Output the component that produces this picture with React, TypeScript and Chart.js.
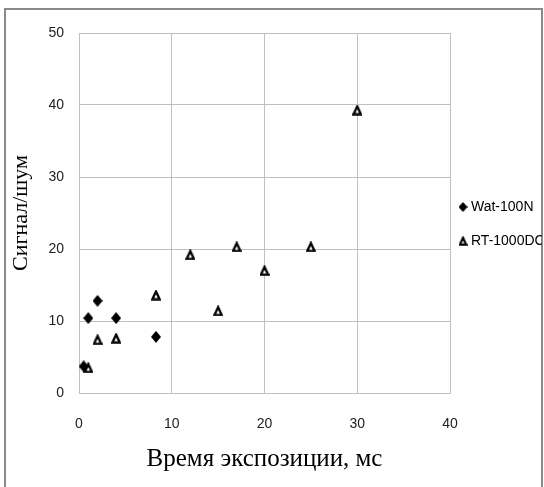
import React, { useEffect, useRef } from "react";
import { Chart, registerables } from "chart.js";

Chart.register(...registerables);

const seriesNames = ["Wat-100N", "RT-1000DC"];
const watX = [0.5, 1, 2, 4, 8.3];
const watY = [3.7, 10.4, 12.8, 10.4, 7.8];
const rtX = [1, 2, 4, 8.3, 12, 15, 17, 20, 25, 30];
const rtY = [3.5, 7.4, 7.6, 13.6, 19.2, 11.4, 20.3, 17.0, 20.3, 39.3];
const xTicks = [0, 10, 20, 30, 40];
const yTicks = [0, 10, 20, 30, 40, 50];
const xTitle = "Время экспозиции, мс";
const yTitle = "Сигнал/шум";

const SANS = "'Liberation Sans', Arial, sans-serif";
const SERIF = "'Liberation Serif', 'Times New Roman', serif";
const GRID = "#c0c0c0";

function makeDiamond(w: number, h: number) {
  const c = document.createElement("canvas");
  c.width = w;
  c.height = h;
  const g = c.getContext("2d")!;
  g.fillStyle = "#000";
  g.beginPath();
  g.moveTo(w / 2, 0);
  g.lineTo(w, h / 2);
  g.lineTo(w / 2, h);
  g.lineTo(0, h / 2);
  g.closePath();
  g.fill();
  return c;
}

function makeTriangle(w: number, h: number, lw: number) {
  const c = document.createElement("canvas");
  c.width = w;
  c.height = h;
  const g = c.getContext("2d")!;
  g.fillStyle = "#fff";
  g.strokeStyle = "#000";
  g.lineWidth = lw;
  g.lineJoin = "miter";
  const m = lw / 2 + 0.2;
  g.beginPath();
  g.moveTo(w / 2, m + 0.5);
  g.lineTo(w - m, h - m);
  g.lineTo(m, h - m);
  g.closePath();
  g.fill();
  g.stroke();
  return c;
}

export default function App() {
  const ref = useRef<HTMLCanvasElement | null>(null);

  useEffect(() => {
    if (!ref.current) return;
    const diamond = makeDiamond(10, 12);
    const triangle = makeTriangle(10, 11, 2.3);
    const legendDiamond = makeDiamond(9, 10);
    const legendTriangle = makeTriangle(9, 10, 2.2);

    const framePlugin = {
      id: "frame",
      afterDraw(chart: any) {
        const ctx = chart.ctx;
        ctx.save();
        ctx.strokeStyle = "#8a8a8a";
        ctx.lineWidth = 2;
        ctx.strokeRect(5, 9, 537, 500);
        ctx.restore();
      },
    };

    const legendPlugin = {
      id: "customLegend",
      afterDraw(chart: any) {
        const ctx = chart.ctx;
        ctx.save();
        ctx.beginPath();
        ctx.rect(0, 0, 542, 487);
        ctx.clip();
        const rows = [
          { img: legendDiamond, y: 207 },
          { img: legendTriangle, y: 241 },
        ];
        ctx.font = `14px ${SANS}`;
        ctx.fillStyle = "#000";
        ctx.textBaseline = "middle";
        chart.data.datasets.forEach((ds: any, i: number) => {
          const r = rows[i];
          ctx.drawImage(r.img, 463 - r.img.width / 2, r.y - r.img.height / 2);
          ctx.fillText(ds.label, 471, r.y);
        });
        ctx.restore();
      },
    };

    const chart = new Chart(ref.current, {
      type: "scatter",
      data: {
        datasets: [
          {
            label: seriesNames[0],
            data: watX.map((x, i) => ({ x, y: watY[i] })),
            pointStyle: diamond as any,
            backgroundColor: "#000",
            borderColor: "#000",
          },
          {
            label: seriesNames[1],
            data: rtX.map((x, i) => ({ x, y: rtY[i] })),
            pointStyle: triangle as any,
            backgroundColor: "#fff",
            borderColor: "#000",
          },
        ],
      },
      options: {
        animation: false,
        responsive: false,
        layout: { padding: { left: 0, right: 94, top: 33, bottom: 0 } },
        plugins: {
          legend: { display: false },
          tooltip: { enabled: false },
        },
        scales: {
          x: {
            type: "linear",
            min: 0,
            max: 40,
            afterBuildTicks: (s: any) => {
              s.ticks = xTicks.map((v) => ({ value: v }));
            },
            afterFit: (s: any) => {
              s.height = 94;
            },
            grid: { color: GRID, drawTicks: false },
            border: { color: GRID },
            ticks: {
              padding: 23,
              color: "#222",
              font: { family: SANS, size: 14 },
            },
            title: {
              display: true,
              text: xTitle,
              color: "#000",
              font: { family: SERIF, size: 25 },
              padding: { top: 0, bottom: 13 },
            },
          },
          y: {
            type: "linear",
            min: 0,
            max: 50,
            afterBuildTicks: (s: any) => {
              s.ticks = yTicks.map((v) => ({ value: v }));
            },
            afterFit: (s: any) => {
              s.width = 79;
            },
            grid: { color: GRID, drawTicks: false },
            border: { color: GRID },
            ticks: {
              padding: 15,
              color: "#222",
              font: { family: SANS, size: 14 },
            },
            title: {
              display: true,
              text: yTitle,
              color: "#000",
              font: { family: SERIF, size: 22 },
              padding: { top: 8, bottom: 0 },
            },
          },
        },
      },
      plugins: [framePlugin, legendPlugin],
    });
    return () => chart.destroy();
  }, []);

  return (
    <div style={{ position: "absolute", left: 0, top: 0, width: 544, height: 487, background: "#fff" }}>
      <canvas ref={ref} width={544} height={487} style={{ width: 544, height: 487, display: "block" }} />
    </div>
  );
}
